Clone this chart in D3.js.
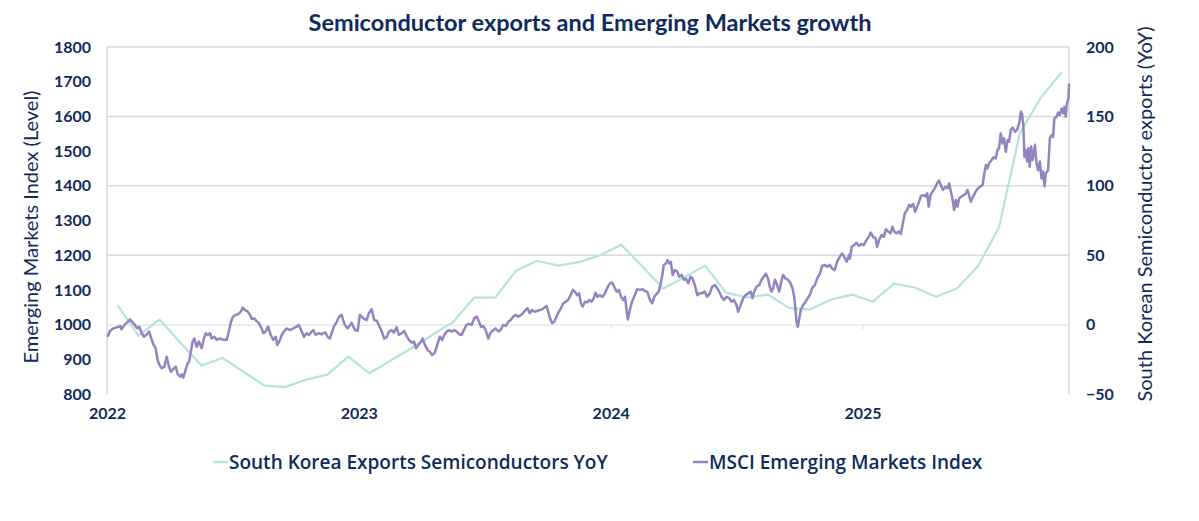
<!DOCTYPE html>
<html>
<head>
<meta charset="utf-8">
<script src="https://cdn.jsdelivr.net/npm/d3@7"></script>
<style>
  body { margin: 0; background: #fff; }
  text { font-family: Lato, "Open Sans", sans-serif; fill: #102a5c; }
</style>
</head>
<body>
<div id="chart"></div>
<script>
/* Semiconductor exports vs MSCI EM, dual axis line chart */

// South Korea semiconductor exports YoY (%), monthly
const semiMonths = [
  "2022-01","2022-02","2022-03","2022-04","2022-05","2022-06","2022-07","2022-08","2022-09","2022-10","2022-11","2022-12",
  "2023-01","2023-02","2023-03","2023-04","2023-05","2023-06","2023-07","2023-08","2023-09","2023-10","2023-11","2023-12",
  "2024-01","2024-02","2024-03","2024-04","2024-05","2024-06","2024-07","2024-08","2024-09","2024-10","2024-11","2024-12",
  "2025-01","2025-02","2025-03","2025-04","2025-05","2025-06","2025-07","2025-08","2025-09","2025-10"
];
const semiYoY = [
  14, -8, 3.6, -13, -29.5, -24, -34, -44, -45, -39.6, -36, -23,
  -35, -26, -17, -7.5, 2, 19.5, 19.5, 39, 46, 42.5, 45, 50,
  57.6, 42, 26, 34, 42.5, 23, 19.5, 21.6, 12, 10.8, 18, 21.6,
  16.5, 29.5, 26.7, 20, 26, 42, 70, 138, 163.5, 182
];

// MSCI Emerging Markets index level, time in years after 2022-01-01
const emTime = [
  0.003,0.012,0.025,0.039,0.052,0.058,0.069,0.082,0.091,0.100,0.111,0.120,0.128,0.138,0.147,0.158,0.167,0.174,0.184,0.193,
  0.201,0.208,0.217,0.228,0.237,0.246,0.254,0.263,0.273,0.281,0.290,0.297,0.303,0.312,0.320,0.326,0.334,0.340,0.347,0.356,
  0.365,0.376,0.385,0.392,0.400,0.409,0.416,0.426,0.436,0.449,0.462,0.475,0.484,0.492,0.501,0.511,0.521,0.531,0.539,0.548,
  0.557,0.568,0.575,0.585,0.594,0.603,0.614,0.621,0.630,0.640,0.650,0.660,0.670,0.676,0.684,0.694,0.703,0.713,0.727,0.740,
  0.753,0.762,0.773,0.782,0.793,0.802,0.813,0.819,0.829,0.839,0.852,0.866,0.876,0.885,0.892,0.901,0.912,0.922,0.932,0.938,
  0.945,0.956,0.971,0.985,0.995,1.004,1.018,1.031,1.040,1.051,1.061,1.071,1.081,1.091,1.101,1.110,1.120,1.130,1.139,1.150,
  1.159,1.170,1.180,1.190,1.199,1.210,1.219,1.227,1.236,1.247,1.253,1.263,1.273,1.282,1.291,1.302,1.313,1.322,1.331,1.339,
  1.349,1.358,1.369,1.379,1.388,1.397,1.408,1.417,1.428,1.437,1.448,1.458,1.468,1.477,1.485,1.494,1.503,1.514,1.523,1.534,
  1.543,1.554,1.564,1.573,1.584,1.593,1.603,1.613,1.623,1.633,1.644,1.653,1.662,1.670,1.679,1.688,1.699,1.710,1.719,1.728,
  1.739,1.746,1.752,1.759,1.768,1.776,1.785,1.794,1.802,1.812,1.821,1.831,1.841,1.850,1.858,1.867,1.875,1.882,1.889,1.898,
  1.907,1.915,1.924,1.933,1.940,1.948,1.957,1.968,1.977,1.986,1.997,2.006,2.014,2.024,2.033,2.041,2.050,2.057,2.063,2.068,
  2.076,2.085,2.096,2.105,2.116,2.127,2.136,2.145,2.156,2.165,2.173,2.182,2.191,2.199,2.206,2.211,2.219,2.226,2.232,2.239,
  2.246,2.255,2.264,2.272,2.282,2.291,2.299,2.308,2.317,2.325,2.334,2.344,2.354,2.363,2.374,2.383,2.394,2.403,2.414,2.423,
  2.431,2.440,2.450,2.460,2.471,2.480,2.489,2.500,2.506,2.516,2.526,2.536,2.546,2.556,2.563,2.570,2.579,2.590,2.599,2.608,
  2.616,2.625,2.632,2.639,2.645,2.652,2.661,2.669,2.679,2.685,2.694,2.705,2.714,2.722,2.729,2.734,2.738,2.743,2.748,2.755,
  2.764,2.774,2.782,2.791,2.800,2.811,2.820,2.831,2.840,2.851,2.860,2.870,2.879,2.890,2.899,2.910,2.919,2.927,2.937,2.947,
  2.950,2.957,2.966,2.976,2.985,2.996,3.005,3.016,3.025,3.033,3.042,3.052,3.058,3.066,3.076,3.085,3.093,3.102,3.111,3.119,
  3.126,3.135,3.144,3.152,3.159,3.168,3.177,3.185,3.192,3.201,3.209,3.217,3.225,3.232,3.241,3.250,3.257,3.263,3.270,3.278,
  3.287,3.296,3.304,3.311,3.320,3.330,3.338,3.344,3.351,3.357,3.364,3.371,3.377,3.384,3.393,3.402,3.410,3.417,3.423,3.430,
  3.439,3.449,3.459,3.470,3.477,3.483,3.490,3.496,3.503,3.512,3.521,3.529,3.536,3.542,3.549,3.556,3.562,3.569,3.576,3.582,
  3.589,3.596,3.605,3.614,3.622,3.629,3.634,3.639,3.643,3.648,3.654,3.659,3.664,3.670,3.675,3.680,3.685,3.691,3.697,3.704,
  3.711,3.717,3.723,3.728,3.737,3.744,3.751,3.757,3.762,3.770,3.777,3.783,3.791,3.797,3.802,3.807,3.812,3.818,3.820
];
const emLevel = [
  965,982,989,992,996,986,999,1008,1015,1008,999,989,994,975,965,972,980,965,943,932,
  898,884,874,879,907,879,864,872,879,857,850,857,847,869,888,893,927,951,960,936,
  951,932,960,975,970,975,960,965,956,960,956,956,980,1008,1023,1028,1030,1037,1049,1042,
  1039,1028,1016,1018,1010,1004,989,975,980,994,970,956,965,941,951,970,980,989,984,989,
  994,999,980,965,975,970,980,984,970,975,972,978,965,960,975,994,1008,1023,1028,1013,
  998,989,1005,984,982,1028,1018,1013,1033,1044,1013,1011,996,980,960,963,980,984,977,992,
  970,975,982,967,956,948,951,932,941,951,960,941,927,922,912,919,946,965,956,970,
  980,984,980,984,980,973,970,984,999,1002,999,1018,1023,1008,994,996,986,960,977,984,
  989,980,986,999,996,1008,1013,1023,1028,1023,1028,1034,1042,1047,1033,1042,1037,1040,1042,1044,
  1050,1054,1037,1018,1004,1008,1023,1037,1047,1061,1066,1071,1085,1100,1095,1085,1090,1061,1052,1066,
  1064,1071,1066,1076,1092,1080,1085,1080,1090,1105,1119,1121,1109,1095,1100,1080,1071,1080,1042,1015,
  1042,1066,1085,1102,1100,1102,1097,1095,1071,1061,1080,1088,1095,1119,1147,1172,1176,1186,1176,1181,
  1143,1157,1153,1138,1143,1129,1133,1119,1138,1133,1114,1085,1090,1090,1095,1080,1090,1109,1114,1105,
  1095,1080,1071,1080,1076,1066,1071,1056,1037,1056,1076,1085,1090,1095,1076,1095,1109,1114,1129,1138,
  1147,1133,1109,1095,1105,1129,1114,1095,1129,1143,1133,1129,1119,1105,1080,1042,1008,994,1013,1042,
  1056,1066,1076,1085,1105,1114,1133,1147,1169,1172,1167,1172,1162,1157,1181,1196,1205,1196,1181,1201,
  1190,1224,1229,1236,1227,1232,1229,1244,1253,1265,1253,1249,1224,1244,1258,1253,1275,1268,1263,1282,
  1268,1263,1268,1261,1287,1321,1330,1345,1340,1348,1325,1340,1354,1371,1373,1369,1378,1340,1373,1383,
  1393,1407,1415,1402,1388,1398,1393,1407,1383,1364,1330,1359,1340,1364,1369,1373,1378,1388,1373,1354,
  1369,1383,1393,1399,1402,1431,1460,1450,1465,1474,1482,1479,1503,1508,1551,1522,1537,1498,1532,1527,
  1561,1568,1556,1561,1580,1614,1604,1571,1484,1503,1470,1508,1455,1513,1474,1493,1518,1465,1445,1470,
  1421,1441,1398,1436,1445,1537,1546,1541,1594,1599,1611,1604,1623,1609,1628,1599,1638,1652,1695
];

const leftTicks = [800, 900, 1000, 1100, 1200, 1300, 1400, 1500, 1600, 1700, 1800];
const rightTicks = [-50, 0, 50, 100, 150, 200];
const yearTicks = [2022, 2023, 2024, 2025];

const width = 1199,
    height = 521,
    margin = ({top: 47, right: 130, bottom: 127, left: 107});

const navy = "#102a5c",
    teal = "#b5e4da",
    purple = "#9483bf";

let semiData = semiMonths.map((m, i) => {
    let [yr, mo] = m.split("-").map(Number);
    return {t: yr + (mo - 0.5) / 12, v: semiYoY[i]};
});
let emData = emTime.map((t, i) => ({t: 2022 + t, v: emLevel[i]}));

let svg = d3.select("#chart")
    .append("svg")
    .attr("width", width)
    .attr("height", height);

let x = d3.scaleLinear()
    .domain([2022, 2025.82])
    .range([margin.left, width - margin.right]);

let yL = d3.scaleLinear()
    .domain([800, 1800])
    .range([height - margin.bottom, margin.top]);

let yR = d3.scaleLinear()
    .domain([-50, 200])
    .range([height - margin.bottom, margin.top]);

// gridlines on the right axis steps
svg.append("g")
    .selectAll("line")
    .data(rightTicks.filter(d => d > 0))
    .join("line")
    .attr("x1", margin.left)
    .attr("x2", width - margin.right)
    .attr("y1", d => yR(d))
    .attr("y2", d => yR(d))
    .attr("stroke", "#d9d9d9")
    .attr("stroke-width", 1.5);

// side frame
svg.append("g")
    .selectAll("line")
    .data([margin.left, width - margin.right])
    .join("line")
    .attr("x1", d => d).attr("x2", d => d)
    .attr("y1", margin.top)
    .attr("y2", height - margin.bottom)
    .attr("stroke", "#d9d9d9")
    .attr("stroke-width", 1.5);

// zero line with the year ticks
const zeroAxis = g => g
    .attr("transform", `translate(0,${yR(0)})`)
    .call(d3.axisBottom(x).tickValues(yearTicks).tickFormat("").tickSize(5).tickSizeOuter(0))
    .call(g => g.selectAll("line, path").attr("stroke", "#dbe6f3").attr("stroke-width", 1.2));

svg.append("g").call(zeroAxis);

const tickFont = g => g.selectAll("text")
    .attr("font-size", 16)
    .attr("font-weight", 700)
    .attr("fill", navy)
    .style("font-family", "Lato");

const xAxis = g => g
    .attr("transform", `translate(0,${height - margin.bottom})`)
    .call(d3.axisBottom(x).tickValues(yearTicks).tickFormat(d3.format("d")).tickSize(0).tickPadding(14))
    .call(g => g.select(".domain").remove())
    .call(tickFont);

const yAxisL = g => g
    .attr("transform", `translate(${margin.left},0)`)
    .call(d3.axisLeft(yL).tickValues(leftTicks).tickFormat(d3.format("d")).tickSize(0).tickPadding(16))
    .call(g => g.select(".domain").remove())
    .call(tickFont);

const yAxisR = g => g
    .attr("transform", `translate(${width - margin.right},0)`)
    .call(d3.axisRight(yR).tickValues(rightTicks).tickFormat(d3.format("d")).tickSize(0).tickPadding(17))
    .call(g => g.select(".domain").remove())
    .call(tickFont);

svg.append("g").call(xAxis);
svg.append("g").call(yAxisL);
svg.append("g").call(yAxisR);

// lines
svg.append("path")
    .datum(semiData)
    .attr("fill", "none")
    .attr("stroke", teal)
    .attr("stroke-width", 2.2)
    .attr("stroke-linejoin", "round")
    .attr("d", d3.line().x(d => x(d.t)).y(d => yR(d.v)));

svg.append("path")
    .datum(emData)
    .attr("fill", "none")
    .attr("stroke", purple)
    .attr("stroke-width", 2.5)
    .attr("stroke-linejoin", "round")
    .attr("d", d3.line().x(d => x(d.t)).y(d => yL(d.v)));

// titles
svg.append("text")
    .attr("x", 590)
    .attr("y", 31)
    .attr("text-anchor", "middle")
    .attr("font-size", 23.5)
    .attr("font-weight", 700)
    .text("Semiconductor exports and Emerging Markets growth");

svg.append("text")
    .attr("transform", `translate(38,227) rotate(-90)`)
    .attr("text-anchor", "middle")
    .attr("font-size", 20)
    .text("Emerging Markets Index (Level)");

svg.append("text")
    .attr("transform", `translate(1152,214) rotate(-90)`)
    .attr("text-anchor", "middle")
    .attr("font-size", 20)
    .text("South Korean Semiconductor exports (YoY)");

// legend
const legendItems = [
    {label: "South Korea Exports Semiconductors YoY", color: teal, x: 213},
    {label: "MSCI Emerging Markets Index", color: purple, x: 693}
];

let legend = svg.selectAll(".legend")
    .data(legendItems)
    .join("g")
    .attr("class", "legend")
    .attr("transform", d => `translate(${d.x},462)`);

legend.append("line")
    .attr("x1", 0).attr("x2", 15)
    .attr("stroke", d => d.color)
    .attr("stroke-width", 2.5);

legend.append("text")
    .attr("x", 16)
    .attr("y", 7)
    .attr("font-size", 19)
    .attr("font-weight", 600)
    .style("font-family", "'Open Sans'")
    .text(d => d.label);
</script>
</body>
</html>
